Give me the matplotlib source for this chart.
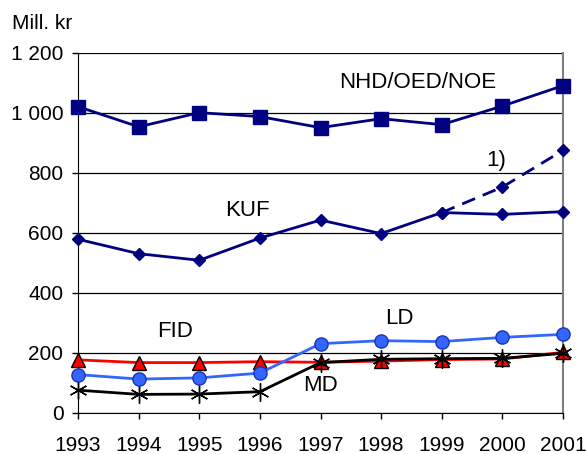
import matplotlib.pyplot as plt

plt.rcParams['font.family'] = ['Liberation Sans', 'DejaVu Sans']

years = [1993, 1994, 1995, 1996, 1997, 1998, 1999, 2000, 2001]
nhd = [1020, 953, 1000, 987, 950, 980, 960, 1022, 1090]
kuf = [578, 530, 508, 582, 642, 597, 667, 661, 670]
kuf_alt_years = [1999, 2000, 2001]
kuf_alt = [667, 752, 874]
fid = [176, 167, 167, 170, 168, 172, 177, 179, 201]
ld = [127, 112, 116, 132, 230, 240, 237, 251, 261]
md = [75, 61, 62, 70, 167, 178, 180, 181, 198]

yticks = [0, 200, 400, 600, 800, 1000, 1200]
ytick_labels = ['0', '200', '400', '600', '800', '1 000', '1 200']

fig = plt.figure(figsize=(5.87, 4.54), dpi=100)
ax = fig.add_axes([0.133, 0.091, 0.826, 0.793])

navy = '#000080'
# NHD/OED/NOE
ax.plot(years, nhd, color=navy, lw=2, marker='s', ms=9.5, clip_on=False, zorder=5)
# KUF, with dashed alternative
ax.plot(kuf_alt_years, kuf_alt, color=navy, lw=2, ls=(0, (5, 3)), marker='D',
        ms=6, clip_on=False, zorder=4)
ax.plot(years, kuf, color=navy, lw=2, marker='D', ms=6, clip_on=False, zorder=5)
# FID
ax.plot(years, fid, color='#ff0000', lw=2, marker='^', ms=10, mfc='#ff0000',
        mec='black', mew=1, clip_on=False, zorder=5)
# MD
ax.plot(years, md, color='black', lw=2, marker=(6, 2, 0), ms=13, mew=1,
        clip_on=False, zorder=6)
# LD
ax.plot(years, ld, color='#3366ff', lw=2, marker='o', ms=9.5, mfc='#3366ff',
        mec='#1a33b3', mew=1, clip_on=False, zorder=7)

ax.set_xlim(1993, 2001)
ax.set_ylim(0, 1200)
ax.set_xticks(years)
ax.set_xticklabels([str(y) for y in years])
ax.set_yticks(yticks)
ax.set_yticklabels(ytick_labels)
ax.tick_params(axis='both', labelsize=15, direction='out', length=4.5, width=1)
ax.tick_params(axis='x', pad=12)
ax.tick_params(axis='y', pad=6)

ax.grid(axis='y', color='black', lw=0.9)
ax.set_axisbelow(True)
ax.spines['top'].set_visible(False)
ax.spines['right'].set_color('#808080')
ax.spines['right'].set_linewidth(1.5)
ax.spines['left'].set_color('black')
ax.spines['bottom'].set_color('black')

fig.text(0.02, 0.948, 'Mill. kr', fontsize=15, ha='left', va='center')

ax.text(1998.6, 1100, 'NHD/OED/NOE', fontsize=16, ha='center', va='center')
ax.text(1999.9, 840, '1)', fontsize=16, ha='center', va='center')
ax.text(1995.8, 673, 'KUF', fontsize=16, ha='center', va='center')
ax.text(1994.6, 270, 'FID', fontsize=16, ha='center', va='center')
ax.text(1998.3, 315, 'LD', fontsize=16, ha='center', va='center')
ax.text(1997.0, 92, 'MD', fontsize=16, ha='center', va='center')

fig.savefig('out.png', dpi=100)
